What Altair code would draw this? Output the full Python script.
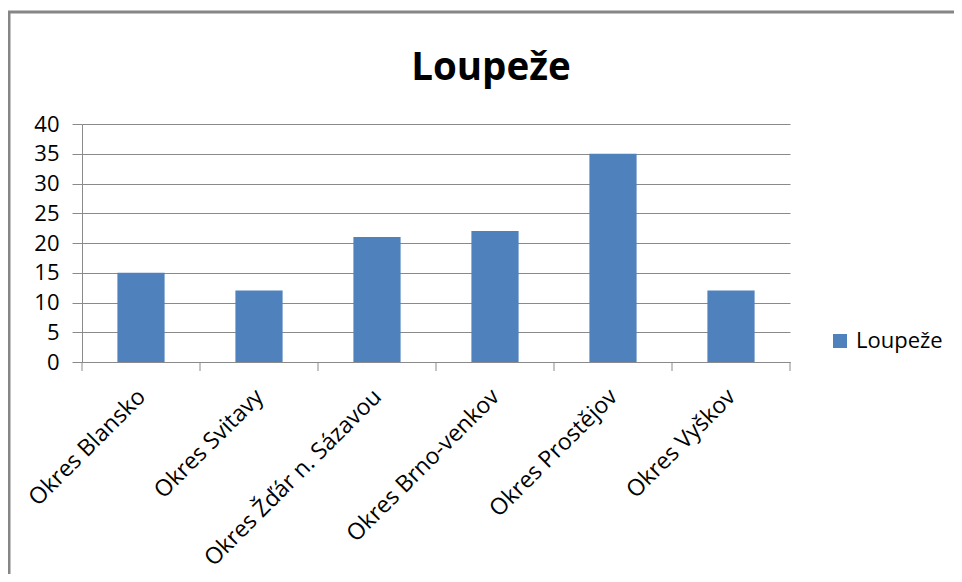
import altair as alt
import pandas as pd

# ---- data ----
categories = ["Okres Blansko", "Okres Svitavy", "Okres Žďár n. Sázavou",
              "Okres Brno-venkov", "Okres Prostějov", "Okres Vyškov"]
values = [15, 12, 21, 22, 35, 12]
series_name = "Loupeže"
y_ticks = [0, 5, 10, 15, 20, 25, 30, 35, 40]
boundaries = [0, 1, 2, 3, 4, 5, 6]  # category boundaries for x tick marks

df = pd.DataFrame({"okres": categories, "pocet": values,
                   "serie": [series_name] * len(categories)})
ticks_df = pd.DataFrame({"hranice": boundaries})
one = pd.DataFrame({"a": [0]})

W, H = 708, 238
GRAY = "#8a8a8a"
BLUE = "#4F81BD"
FONT = "Open Sans"

bars = alt.Chart(df).mark_bar(width=alt.RelativeBandSize(0.4)).encode(
    x=alt.X("okres:N", sort=categories,
            scale=alt.Scale(paddingInner=0, paddingOuter=0),
            axis=alt.Axis(title=None, labelAngle=-45, ticks=False, domain=True,
                          domainColor=GRAY, grid=False, labelFont=FONT,
                          labelFontSize=23, labelColor="black", labelPadding=23,
                          labelOffset=-7, labelLimit=0)),
    y=alt.Y("pocet:Q", scale=alt.Scale(domain=[0, 40], nice=False),
            axis=alt.Axis(values=y_ticks, title=None, grid=True, gridColor=GRAY,
                          domain=True, domainColor=GRAY, tickColor=GRAY, tickSize=10,
                          labelFont=FONT, labelFontSize=22, labelColor="black",
                          labelPadding=13)),
    fill=alt.Fill("serie:N", scale=alt.Scale(range=[BLUE]),
                  legend=alt.Legend(title=None, orient="none", legendX=747, legendY=206,
                                    symbolType="square", symbolSize=196,
                                    symbolStrokeWidth=0, labelFont=FONT,
                                    labelFontSize=22, labelColor="black",
                                    labelOffset=5)),
)

xticks = alt.Chart(ticks_df).mark_rule(color=GRAY, strokeWidth=1).encode(
    x=alt.X("hranice:Q", scale=alt.Scale(domain=[0, 6], nice=False, zero=False), axis=None),
    y=alt.value(H),
    y2=alt.value(H + 9),
)

frame_left = alt.Chart(one).mark_rule(color="#868686", strokeWidth=3).encode(
    x=alt.value(-73), y=alt.value(-113), y2=alt.value(H + 300))
frame_top = alt.Chart(one).mark_rule(color="#868686", strokeWidth=3).encode(
    x=alt.value(-74.5), x2=alt.value(W + 200), y=alt.value(-112))

chart = alt.layer(bars, xticks, frame_left, frame_top).resolve_scale(
    x="independent"
).properties(
    width=W, height=H,
    autosize=alt.AutoSizeParams(type="none"),
    padding={"left": 74, "top": 116, "right": 164, "bottom": 212},
    title=alt.TitleParams(series_name, font=FONT, fontSize=38.5, fontWeight="bold",
                          color="black", anchor="middle", dx=55, offset=-109,
                          frame="group", baseline="alphabetic"),
).configure_view(strokeWidth=0)

chart.save("out.html", embed_options={"renderer": "svg", "actions": False})
